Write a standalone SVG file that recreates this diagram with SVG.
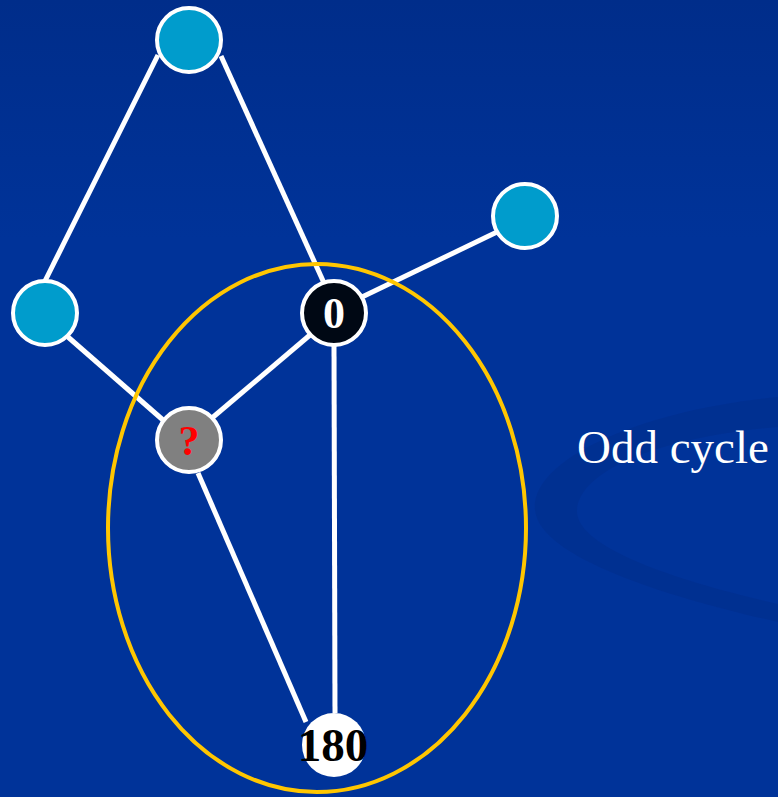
<svg xmlns="http://www.w3.org/2000/svg" width="778" height="797" viewBox="0 0 778 797">
<defs>
<linearGradient id="bg" x1="0" y1="0" x2="0" y2="1">
<stop offset="0" stop-color="#002d8a"/>
<stop offset="0.3" stop-color="#003399"/>
<stop offset="1" stop-color="#003399"/>
</linearGradient>
<style>
.edge{stroke:#ffffff;stroke-width:5;fill:none}
.node{stroke:#ffffff;stroke-width:4}
.blue{fill:#009ccc}
.lbl{font-family:"Liberation Serif","Times New Roman",serif;font-weight:bold;text-anchor:middle}
</style>
</defs>
<rect width="778" height="797" fill="url(#bg)"/>
<path d="M778,397 C640,410 530,460 535,510 C540,560 680,600 778,622 L778,604 C690,584 575,550 577,510 C580,470 660,437 778,427 Z" fill="#002a85" opacity="0.35"/>
<text x="577" y="463" font-family="'Liberation Serif','Times New Roman',serif" font-size="47" fill="#ffffff">Odd cycle</text>
<g id="connectors">
<line class="edge" x1="44" y1="283" x2="158" y2="55"/>
<line class="edge" x1="221" y1="56" x2="324" y2="283"/>
<line class="edge" x1="362" y1="297" x2="497" y2="232"/>
<line class="edge" x1="68" y1="337" x2="163" y2="420"/>
<line class="edge" x1="212" y1="418" x2="310" y2="335"/>
<line class="edge" x1="334" y1="345" x2="335" y2="713"/>
<line class="edge" x1="198" y1="473" x2="306" y2="722"/>
</g>
<ellipse cx="317" cy="528" rx="209" ry="264" fill="none" stroke="#ffc600" stroke-width="4"/>
<g id="n_top"><circle class="node blue" cx="189" cy="40" r="32"/></g>
<g id="n_right"><circle class="node blue" cx="525" cy="216" r="32"/></g>
<g id="n_left"><circle class="node blue" cx="45" cy="313" r="32"/></g>
<g id="n_zero"><circle class="node" cx="334" cy="313" r="32" fill="#000814"/><text class="lbl" x="334" y="328" font-size="44" fill="#ffffff">0</text></g>
<g id="n_q"><circle class="node" cx="189" cy="440" r="32" fill="#808080"/><text class="lbl" x="189" y="455" font-size="42" fill="#ff0000">?</text></g>
<g id="n_180"><circle cx="334" cy="745" r="32" fill="#ffffff"/><text class="lbl" x="333" y="761" font-size="47" fill="#000000">180</text></g>
</svg>
